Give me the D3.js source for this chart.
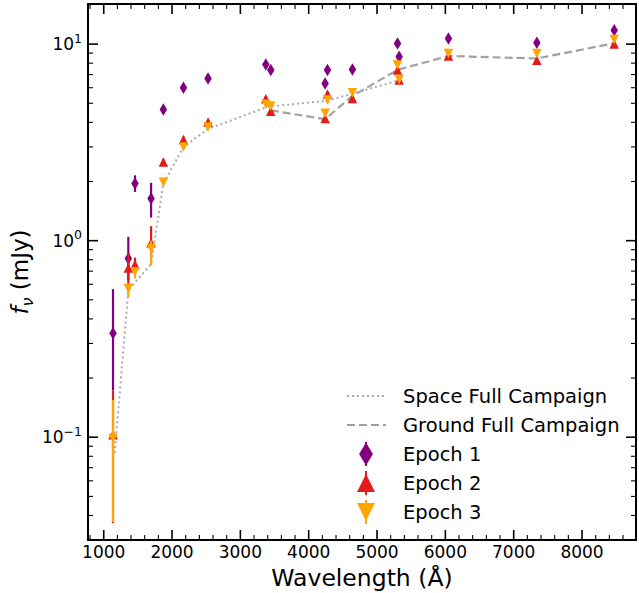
<!DOCTYPE html>
<html><head><meta charset="utf-8">
<script src="https://cdn.jsdelivr.net/npm/d3@7"></script>
<style>body{margin:0;background:#fff}svg{display:block}text{font-family:"DejaVu Sans",sans-serif;fill:#000}</style>
</head><body><svg id="c" width="639" height="593"></svg>
<script>
// ---- data ----
const wavelengths = [1136,1360,1458,1693,1873,2167,2527,3372,3445,4240,4275,4640,5300,5324,6045,7339,8471];
const epoch1 = [0.338,0.812,1.955,1.64,4.65,5.99,6.69,7.88,7.38,6.31,7.38,7.43,10.08,8.62,10.69,10.15,11.78];
const epoch1Lo = [0.173,0.63,1.77,1.31,4.45,5.75,6.4,7.6,7.1,6.05,7.1,7.15,9.7,8.3,10.3,9.8,11.3];
const epoch1Hi = [0.567,1.045,2.15,1.97,4.85,6.25,6.95,8.2,7.65,6.55,7.65,7.7,10.45,8.95,11.1,10.5,12.2];
const epoch2 = [0.103,0.727,0.757,0.975,2.51,3.27,4.01,5.27,4.56,4.19,5.58,5.29,7.38,6.56,8.69,8.29,10.0];
const epoch2Lo = [0.0365,0.59,0.69,0.82,2.42,3.15,3.88,5.1,4.42,4.05,5.4,5.12,7.15,6.35,8.45,8.05,9.7];
const epoch2Hi = [0.173,0.86,0.82,1.185,2.6,3.39,4.14,5.44,4.7,4.33,5.76,5.46,7.61,6.77,8.93,8.53,10.3];
const epoch3 = [0.0988,0.571,0.694,0.913,1.98,3.0,3.79,4.95,4.84,4.45,5.19,5.65,7.82,6.61,8.97,8.97,10.56];
const epoch3Lo = [0.037,0.516,0.644,0.75,1.92,2.92,3.7,4.83,4.72,4.34,5.06,5.51,7.63,6.45,8.75,8.75,10.3];
const epoch3Hi = [0.155,0.607,0.73,1.0,2.04,3.08,3.88,5.07,4.96,4.56,5.32,5.79,8.01,6.77,9.19,9.19,10.82];
const spaceWl = [1160,1360,1693,1873,2167,2527,3400,4275,4640,5324];
const spaceFlux = [0.083,0.56,0.76,1.95,3.0,3.7,4.8,5.15,5.6,6.55];
const groundWl = [3445,4240,4640,5300,6045,7339,8471];
const groundFlux = [4.6,4.15,5.45,7.4,8.7,8.45,10.1];
const xTicks = [1000,2000,3000,4000,5000,6000,7000,8000];
const yTickExp = [-1,0,1];
const legendLabels = ["Space Full Campaign","Ground Full Campaign","Epoch 1","Epoch 2","Epoch 3"];

// ---- layout ----
const L=88,R=636,T=4,B=540;
const svg=d3.select("#c");
const x=d3.scaleLinear().domain([770,8790]).range([L,R]);
const y=d3.scaleLog().domain([0.03,16]).range([B,T]);
const g=svg.append("g");

// lines
const line=d3.line().x(d=>x(d[0])).y(d=>y(d[1]));
g.append("path").datum(spaceWl.map((w,i)=>[w,spaceFlux[i]])).attr("d",line)
 .attr("fill","none").attr("stroke","#aaaaaa").attr("stroke-width",2).attr("stroke-dasharray","2,3");
g.append("path").datum(groundWl.map((w,i)=>[w,groundFlux[i]])).attr("d",line)
 .attr("fill","none").attr("stroke","#a0a0a0").attr("stroke-width",2.2).attr("stroke-dasharray","8,4");

// markers
function diamondPath(s){const w=s*0.3,h=s*0.5;return `M0,${-h}L${w},0L0,${h}L${-w},0Z`;}
function triUp(s){const h=s/2;return `M0,${-h}L${h},${h}L${-h},${h}Z`;}
function triDown(s){const h=s/2;return `M0,${h}L${h},${-h}L${-h},${-h}Z`;}
const series=[
 {v:epoch1,lo:epoch1Lo,hi:epoch1Hi,color:"#800080",shape:diamondPath,size:12.5},
 {v:epoch2,lo:epoch2Lo,hi:epoch2Hi,color:"#e41a1c",shape:triUp,size:9.5},
 {v:epoch3,lo:epoch3Lo,hi:epoch3Hi,color:"#ffa500",shape:triDown,size:9.5}
];
series.forEach(s=>{
  const gg=g.append("g");
  gg.selectAll("line").data(wavelengths).join("line")
    .attr("x1",d=>x(d)).attr("x2",d=>x(d))
    .attr("y1",(d,i)=>y(s.lo[i])).attr("y2",(d,i)=>y(s.hi[i]))
    .attr("stroke",s.color).attr("stroke-width",2.2);
  gg.selectAll("path").data(wavelengths).join("path")
    .attr("d",s.shape(s.size))
    .attr("transform",(d,i)=>`translate(${x(d)},${y(s.v[i])})`)
    .attr("fill",s.color);
});

// frame
svg.append("rect").attr("x",L).attr("y",T).attr("width",R-L).attr("height",B-T)
  .attr("fill","none").attr("stroke","#000").attr("stroke-width",2);

// x ticks
const xMinor=d3.range(800,8800,200).filter(v=>v%1000!==0);
const tk=svg.append("g").attr("stroke","#000");
xTicks.forEach(v=>{
  tk.append("line").attr("x1",x(v)).attr("x2",x(v)).attr("y1",B).attr("y2",B-10).attr("stroke-width",1.6);
  tk.append("line").attr("x1",x(v)).attr("x2",x(v)).attr("y1",T).attr("y2",T+10).attr("stroke-width",1.6);
});
xMinor.forEach(v=>{
  tk.append("line").attr("x1",x(v)).attr("x2",x(v)).attr("y1",B).attr("y2",B-5).attr("stroke-width",1.1);
  tk.append("line").attr("x1",x(v)).attr("x2",x(v)).attr("y1",T).attr("y2",T+5).attr("stroke-width",1.1);
});
svg.append("g").selectAll("text").data(xTicks).join("text")
  .attr("x",d=>x(d)).attr("y",B+18).attr("text-anchor","middle").attr("font-size",17).text(d=>d);

// y ticks
yTickExp.forEach(e=>{
  const v=Math.pow(10,e);
  tk.append("line").attr("x1",L).attr("x2",L+10).attr("y1",y(v)).attr("y2",y(v)).attr("stroke-width",1.6);
  tk.append("line").attr("x1",R).attr("x2",R-10).attr("y1",y(v)).attr("y2",y(v)).attr("stroke-width",1.6);
});
const yMinor=[];
[-2,-1,0,1].forEach(e=>{for(let k=2;k<=9;k++){const v=k*Math.pow(10,e);if(v>=0.03&&v<=16)yMinor.push(v);}});
yMinor.forEach(v=>{
  tk.append("line").attr("x1",L).attr("x2",L+5).attr("y1",y(v)).attr("y2",y(v)).attr("stroke-width",1.1);
  tk.append("line").attr("x1",R).attr("x2",R-5).attr("y1",y(v)).attr("y2",y(v)).attr("stroke-width",1.1);
});
yTickExp.forEach(e=>{
  const t=svg.append("text").attr("x",L-6).attr("y",y(Math.pow(10,e))+6).attr("text-anchor","end").attr("font-size",17);
  t.append("tspan").text("10");
  t.append("tspan").attr("font-size",12.5).attr("dy",-7.5).text(e<0?"\u2212"+Math.abs(e):String(e));
});

// axis labels
svg.append("text").attr("x",(L+R)/2).attr("y",586).attr("text-anchor","middle").attr("font-size",23.5).text("Wavelength (Å)");
const yl=svg.append("text").attr("transform","translate(28,272) rotate(-90)").attr("text-anchor","middle").attr("font-size",23);
yl.append("tspan").attr("font-style","italic").text("f");
yl.append("tspan").attr("font-style","italic").attr("font-size",16).attr("dy",5).text("ν");
yl.append("tspan").attr("dy",-5).text(" (mJy)");

// legend
const lg=svg.append("g");
const rowY=[396,425,454,483,512];
const lx0=347,lx1=386,mx=366,tx=403;
lg.append("line").attr("x1",lx0).attr("x2",lx1).attr("y1",rowY[0]).attr("y2",rowY[0]).attr("stroke","#aaaaaa").attr("stroke-width",2).attr("stroke-dasharray","2,3");
lg.append("line").attr("x1",lx0).attr("x2",lx1).attr("y1",rowY[1]).attr("y2",rowY[1]).attr("stroke","#a0a0a0").attr("stroke-width",2.2).attr("stroke-dasharray","8,4");
series.forEach((s,i)=>{
  const yy=rowY[i+2];
  lg.append("line").attr("x1",mx).attr("x2",mx).attr("y1",yy-12).attr("y2",yy+12).attr("stroke",s.color).attr("stroke-width",2);
  lg.append("path").attr("d",s.shape(i===0?23:18)).attr("transform",`translate(${mx},${yy})`).attr("fill",s.color);
});
lg.selectAll("text").data(legendLabels).join("text")
  .attr("x",tx).attr("y",(d,i)=>rowY[i]+7).attr("font-size",19.5).text(d=>d);
</script></body></html>
